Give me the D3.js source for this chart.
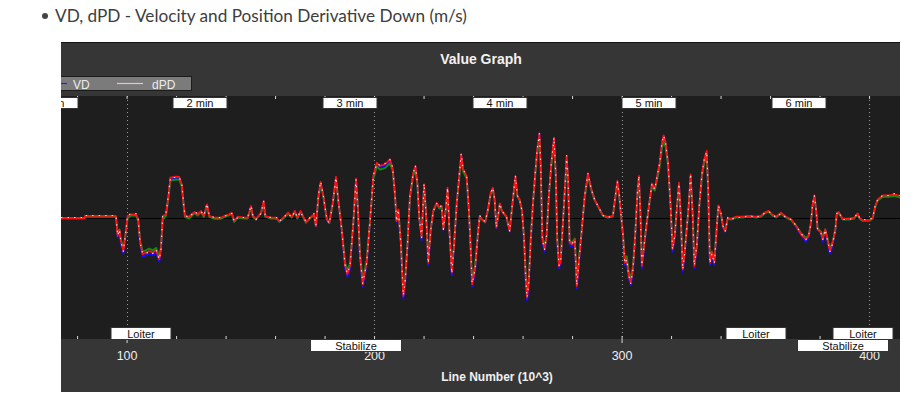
<!DOCTYPE html>
<html>
<head>
<meta charset="utf-8">
<script src="https://cdn.jsdelivr.net/npm/d3@7"></script>
<style>
  body { margin: 0; background: #fff; }
  svg text { font-family: "Liberation Sans", Arial, sans-serif; }
</style>
</head>
<body>
<svg width="920" height="395"></svg>
<script>
// line number (x 1000) of each sample
var lineNo = [73.5,82.9,83.2,95.7,96.4,97.1,97.7,98.7,99.8,100.4,101.8,103.8,104.7,105.5,106.5,107.8,109.2,110.6,111.9,113.2,113.9,114.6,115.9,116.9,117.7,120.0,121.3,122.3,123.1,123.6,125.3,127.4,128.7,130.1,131.2,132.5,133.4,135.4,138.1,140.2,141.5,142.5,143.5,144.9,147.6,148.9,150.3,151.0,152.3,154.3,155.4,156.0,158.3,
  160.6,161.7,163.3,165.3,166.7,168.0,169.0,170.3,171.4,172.5,174.1,175.7,176.5,177.5,178.4,179.5,180.9,181.9,183.3,184.6,185.5,186.9,188.3,189.2,190.3,191.6,192.7,193.4,194.3,195.4,197.0,198.3,199.7,201.1,202.4,204.4,206.4,207.5,208.4,209.1,209.8,210.8,211.8,212.5,213.4,214.5,215.8,216.7,217.5,218.3,219.2,220.2,221.0,221.9,222.9,223.9,225.3,226.4,227.3,228.0,229.1,229.7,230.4,231.4,232.3,233.4,234.4,235.2,236.0,237.4,238.2,238.8,239.6,240.8,242.1,
  242.7,243.6,244.9,246.0,247.1,248.0,248.7,249.4,250.1,250.8,251.7,253.4,254.8,255.8,257.1,257.9,258.8,259.8,260.6,261.3,261.8,262.5,263.3,264.2,265.1,265.9,266.8,267.3,268.0,268.9,269.7,270.6,271.6,272.7,273.4,274.0,274.7,275.4,276.3,277.3,277.8,278.4,279.0,280.0,281.1,281.9,282.7,283.7,285.1,286.4,287.8,289.1,291.2,292.5,294.5,296.5,297.5,298.3,299.0,299.9,300.6,301.3,302.1,302.9,303.7,304.6,305.5,306.4,307.0,307.6,308.2,309.1,310.0,311.4,312.3,313.4,314.4,315.4,316.3,317.0,317.8,318.8,319.8,320.6,321.5,322.4,323.2,323.9,324.7,325.5,
  327.1,327.9,328.7,329.4,330.4,331.4,332.5,333.4,334.4,335.0,335.7,336.5,337.5,338.4,339.1,340.2,341.1,341.9,342.9,344.2,346.2,348.9,351.6,354.3,356.3,357.7,359.4,360.8,362.4,364.4,366.4,368.5,370.5,372.5,374.5,375.6,376.5,377.2,377.9,378.6,379.2,380.6,381.3,382.3,383.3,384.2,385.3,386.4,386.9,387.7,389.3,392.0,394.0,395.4,396.1,397.4,400.1,401.5,402.5,403.5,405.5,408.2,410.2,412.5];

var vdRed = [-0.04,-0.04,0.08,0.08,-0.93,-0.59,-1.18,-1.68,-0.59,0.08,0.16,0.16,-0.09,-1.26,-1.84,-1.76,-1.68,-1.76,-1.63,-2.09,-1.59,0.08,0.16,1.08,1.99,2.04,2.03,1.66,0.58,0.08,0.04,0.28,0.16,0.33,0.08,0.66,0.08,-0.01,-0.01,0.11,0.16,0.24,-0.18,0.04,-0.01,-0.01,0.58,0.08,-0.06,0.24,0.83,0.08,-0.01,
  -0.01,-0.18,-0.01,0.24,0.04,0.33,-0.01,0.33,0.04,-0.23,-0.01,0.16,-0.43,1.08,1.78,1.08,-0.09,-0.26,0.74,2.04,0.91,-0.59,-2.43,-2.84,-2.43,-0.26,1.94,0.58,-1.93,-3.34,-2.26,-0.26,2.08,2.74,2.58,2.66,2.91,2.49,1.24,-0.18,0.41,-1.26,-3.93,-3.26,-1.59,1.08,2.24,2.58,1.74,-0.09,-1.01,1.66,0.24,-2.26,-0.59,0.33,0.74,0.49,0.58,-0.59,0.58,1.49,-0.59,-2.76,-1.43,0.74,2.08,3.16,2.41,2.08,0.58,-0.93,-3.34,-2.59,-0.59,
  0.08,-0.09,-0.23,0.41,1.24,1.49,0.91,-0.51,0.08,0.71,0.33,0.08,-0.68,0.58,2.08,1.08,0.91,0.33,-1.09,-3.09,-4.01,-3.26,-1.09,0.74,2.24,3.41,4.21,2.74,-1.09,-1.59,-0.93,1.08,2.74,3.99,2.24,-1.09,-2.43,-2.18,-0.26,1.91,3.08,1.91,-1.26,-1.34,-1.09,-3.43,-2.26,-0.93,1.08,2.21,1.41,0.91,0.41,0.11,0.03,0.08,1.08,1.83,1.16,-0.01,-0.93,-2.26,-2.09,-2.93,-3.26,-2.59,-0.93,1.24,2.08,0.24,-2.43,-1.43,-0.43,0.91,1.71,1.41,2.08,2.74,3.74,4.11,3.74,2.74,0.58,-1.59,-0.93,0.58,1.74,0.08,-2.59,-1.76,
  0.58,2.16,0.24,-2.43,-1.43,0.58,2.24,2.91,3.33,1.41,-2.26,-1.76,-2.26,-0.59,0.61,0.16,-0.51,-0.68,-0.01,-0.06,0.04,0.04,0.08,0.04,0.08,0.24,0.33,0.16,0.04,0.24,0.04,-0.09,-0.43,-0.84,-1.09,-0.93,-0.26,0.66,1.11,0.41,-0.59,-0.76,-1.09,-0.59,-1.18,-1.68,-1.26,-0.59,0.16,0.28,-0.06,-0.06,-0.01,0.21,-0.01,-0.13,-0.13,-0.01,0.58,0.91,1.11,1.11,1.16,1.08];

var vdBlue = [-0.07,-0.07,0.05,0.05,-0.96,-0.62,-1.30,-1.80,-0.62,0.05,0.13,0.13,-0.12,-1.38,-1.96,-1.88,-1.80,-1.88,-1.75,-2.21,-1.71,0.05,0.13,1.02,1.93,1.98,1.97,1.60,0.55,0.05,0.01,0.25,0.13,0.30,0.05,0.63,0.05,-0.04,-0.04,0.08,0.13,0.21,-0.21,0.01,-0.04,-0.04,0.55,0.05,-0.09,0.21,0.80,0.05,-0.04,
  -0.04,-0.21,-0.04,0.21,0.01,0.30,-0.04,0.30,0.01,-0.26,-0.04,0.13,-0.46,1.02,1.72,1.02,-0.12,-0.29,0.71,1.98,0.88,-0.62,-2.55,-2.96,-2.55,-0.29,1.88,0.55,-2.05,-3.46,-2.38,-0.29,2.02,2.68,2.52,2.60,2.85,2.43,1.18,-0.21,0.38,-1.38,-4.05,-3.38,-1.71,1.02,2.18,2.52,1.68,-0.12,-1.13,1.60,0.21,-2.38,-0.62,0.30,0.71,0.46,0.55,-0.62,0.55,1.43,-0.62,-2.88,-1.55,0.71,2.02,3.10,2.35,2.02,0.55,-0.96,-3.46,-2.71,-0.62,
  0.05,-0.12,-0.26,0.38,1.18,1.43,0.88,-0.54,0.05,0.68,0.30,0.05,-0.71,0.55,2.02,1.02,0.88,0.30,-1.21,-3.21,-4.13,-3.38,-1.21,0.71,2.18,3.35,4.15,2.68,-1.21,-1.71,-0.96,1.02,2.68,3.93,2.18,-1.21,-2.55,-2.30,-0.29,1.85,3.02,1.85,-1.38,-1.46,-1.21,-3.55,-2.38,-0.96,1.02,2.15,1.35,0.88,0.38,0.08,0.00,0.05,1.02,1.77,1.10,-0.04,-0.96,-2.38,-2.21,-3.05,-3.38,-2.71,-0.96,1.18,2.02,0.21,-2.55,-1.55,-0.46,0.88,1.65,1.35,2.02,2.68,3.68,4.05,3.68,2.68,0.55,-1.71,-0.96,0.55,1.68,0.05,-2.71,-1.88,
  0.55,2.10,0.21,-2.55,-1.55,0.55,2.18,2.85,3.27,1.35,-2.38,-1.88,-2.38,-0.62,0.58,0.13,-0.54,-0.71,-0.04,-0.09,0.01,0.01,0.05,0.01,0.05,0.21,0.30,0.13,0.01,0.21,0.01,-0.12,-0.46,-0.87,-1.21,-0.96,-0.29,0.63,1.05,0.38,-0.62,-0.79,-1.21,-0.62,-1.30,-1.80,-1.38,-0.62,0.13,0.25,-0.09,-0.09,-0.04,0.18,-0.04,-0.16,-0.16,-0.04,0.55,0.88,1.05,1.05,1.10,1.02];

var vdGreen = [-0.02,-0.02,0.04,0.04,-0.80,-0.62,-1.10,-1.56,-0.70,-0.05,0.10,0.10,-0.14,-1.17,-1.71,-1.64,-1.56,-1.64,-1.52,-1.94,-1.50,-0.10,0.08,0.95,1.85,1.90,1.89,1.55,0.60,0.02,-0.05,0.22,0.10,0.28,0.02,0.58,0.03,-0.06,-0.06,0.06,0.12,0.20,-0.22,0.00,-0.05,-0.05,0.50,0.04,-0.10,0.20,0.74,0.04,-0.05,
  -0.05,-0.22,-0.05,0.20,0.00,0.29,-0.05,0.29,0.00,-0.26,-0.05,0.12,-0.40,0.96,1.66,1.05,-0.05,-0.28,0.65,1.90,0.90,-0.50,-2.26,-2.64,-2.30,-0.30,1.80,0.62,-1.80,-3.11,-2.15,-0.25,1.93,2.55,2.40,2.47,2.71,2.35,1.20,-0.12,0.36,-1.17,-3.65,-3.10,-1.55,1.00,2.08,2.40,1.66,-0.06,-0.94,1.54,0.22,-2.10,-0.60,0.30,0.70,0.45,0.54,-0.55,0.52,1.39,-0.55,-2.57,-1.40,0.68,1.93,2.94,2.30,1.96,0.60,-0.87,-3.11,-2.45,-0.64,
  0.02,-0.10,-0.24,0.36,1.15,1.39,0.90,-0.45,0.04,0.66,0.30,0.04,-0.63,0.52,1.93,1.05,0.86,0.32,-1.01,-2.87,-3.73,-3.07,-1.10,0.68,2.08,3.17,3.92,2.65,-0.95,-1.48,-0.92,1.00,2.55,3.71,2.15,-1.01,-2.26,-2.05,-0.30,1.78,2.86,1.85,-1.17,-1.25,-1.05,-3.19,-2.15,-0.90,1.00,2.06,1.38,0.88,0.38,0.08,0.00,0.05,1.00,1.70,1.12,-0.04,-0.87,-2.10,-1.94,-2.72,-3.03,-2.45,-0.90,1.15,1.93,0.30,-2.26,-1.40,-0.45,0.85,1.59,1.35,1.93,2.55,3.48,3.82,3.52,2.60,0.60,-1.48,-0.90,0.54,1.62,0.10,-2.41,-1.70,
  0.50,2.01,0.28,-2.26,-1.40,0.54,2.08,2.71,3.10,1.40,-2.10,-1.70,-2.10,-0.60,0.55,0.12,-0.47,-0.66,-0.05,-0.10,0.00,0.00,0.04,0.00,0.04,0.20,0.29,0.12,0.00,0.20,0.00,-0.13,-0.40,-0.78,-1.01,-0.90,-0.30,0.61,1.03,0.40,-0.55,-0.71,-1.01,-0.60,-1.10,-1.56,-1.20,-0.60,0.12,0.24,-0.10,-0.10,-0.05,0.17,-0.05,-0.17,-0.17,-0.05,0.52,0.85,1.03,1.03,1.08,1.00];

var dPD = [0,0,0.1,0.1,-0.9,-0.6,-1.2,-1.7,-0.6,0.1,0.2,0.2,-0.1,-1.3,-1.8,-1.8,-1.7,-1.8,-1.6,-2.1,-1.6,0.1,0.2,1.1,2.0,2.0,2.0,1.7,0.6,0.1,0,0.3,0.2,0.3,0.1,0.7,0.1,0,0,0.1,0.2,0.2,-0.2,0,0,0,0.6,0.1,-0.1,0.2,0.8,0.1,0,
  0,-0.2,0,0.2,0,0.3,0,0.3,0,-0.2,0,0.2,-0.4,1.1,1.8,1.1,-0.1,-0.3,0.7,2.0,0.9,-0.6,-2.4,-2.8,-2.4,-0.3,1.9,0.6,-1.9,-3.3,-2.3,-0.3,2.1,2.7,2.6,2.7,2.9,2.5,1.2,-0.2,0.4,-1.3,-3.9,-3.3,-1.6,1.1,2.2,2.6,1.7,-0.1,-1.0,1.7,0.2,-2.3,-0.6,0.3,0.7,0.5,0.6,-0.6,0.6,1.5,-0.6,-2.8,-1.4,0.7,2.1,3.2,2.4,2.1,0.6,-0.9,-3.3,-2.6,-0.6,
  0.1,-0.1,-0.2,0.4,1.2,1.5,0.9,-0.5,0.1,0.7,0.3,0.1,-0.7,0.6,2.1,1.1,0.9,0.3,-1.1,-3.1,-4.0,-3.3,-1.1,0.7,2.2,3.4,4.2,2.7,-1.1,-1.6,-0.9,1.1,2.7,4.0,2.2,-1.1,-2.4,-2.2,-0.3,1.9,3.1,1.9,-1.3,-1.3,-1.1,-3.4,-2.3,-0.9,1.1,2.2,1.4,0.9,0.4,0.1,0,0.1,1.1,1.8,1.2,0,-0.9,-2.3,-2.1,-2.9,-3.3,-2.6,-0.9,1.2,2.1,0.2,-2.4,-1.4,-0.4,0.9,1.7,1.4,2.1,2.7,3.7,4.1,3.7,2.7,0.6,-1.6,-0.9,0.6,1.7,0.1,-2.6,-1.8,
  0.6,2.2,0.2,-2.4,-1.4,0.6,2.2,2.9,3.3,1.4,-2.3,-1.8,-2.3,-0.6,0.6,0.2,-0.5,-0.7,0,-0.1,0,0,0.1,0,0.1,0.2,0.3,0.2,0,0.2,0,-0.1,-0.4,-0.8,-1.1,-0.9,-0.3,0.7,1.1,0.4,-0.6,-0.8,-1.1,-0.6,-1.2,-1.7,-1.3,-0.6,0.2,0.3,-0.1,-0.1,0,0.2,0,-0.1,-0.1,0,0.6,0.9,1.1,1.1,1.2,1.1];

var minuteAt = [69.3, 129.7, 190.3, 250.7, 311.1, 371.5];
var minuteLabels = ["1 min", "2 min", "3 min", "4 min", "5 min", "6 min"];
var modeAt = [105.8, 192.5, 354.3, 389.3, 397.5];
var modeNames = ["Loiter", "Stabilize", "Loiter", "Stabilize", "Loiter"];
var majorTicks = [100, 200, 300, 400];
var minorTicks = d3.range(80, 420, 20);

var svg = d3.select("svg");

// page heading (bullet item)
svg.append("circle").attr("cx", 45).attr("cy", 16).attr("r", 3).attr("fill", "#444");
svg.append("text")
   .attr("x", 55).attr("y", 22)
   .style("font-family", "Lato, sans-serif")
   .attr("font-size", "17.2px")
   .attr("fill", "#3d3d3d")
   .text("VD, dPD - Velocity and Position Derivative Down (m/s)");

var panelL = 61, panelR = 900, panelT = 42, panelB = 392;
var plotTop = 96, plotBottom = 339;

svg.append("clipPath").attr("id", "panelClip")
   .append("rect").attr("x", panelL).attr("y", panelT).attr("width", panelR - panelL).attr("height", panelB - panelT);

var g = svg.append("g").attr("clip-path", "url(#panelClip)");

g.append("rect").attr("x", panelL).attr("y", panelT).attr("width", panelR - panelL).attr("height", panelB - panelT)
 .attr("fill", "#363636");
g.append("line").attr("x1", panelL).attr("x2", panelR).attr("y1", panelT + 0.5).attr("y2", panelT + 0.5)
 .attr("stroke", "#151515");
g.append("rect").attr("x", panelL).attr("y", plotTop).attr("width", panelR - panelL).attr("height", plotBottom - plotTop)
 .attr("fill", "#1e1e1f");

var x = d3.scaleLinear().domain([73.5, 412.5]).range([panelL, panelR]);
var y = d3.scaleLinear().domain([-6, 6]).range([337.5, 97.5]);

g.append("text")
 .attr("x", 481).attr("y", 64)
 .attr("text-anchor", "middle")
 .attr("font-size", "14px").attr("font-weight", "bold")
 .attr("fill", "#f2f2f2")
 .text("Value Graph");

// legend (left part cut off)
var lg = g.append("g");
lg.append("rect").attr("x", 20.5).attr("y", 76.5).attr("width", 171).attr("height", 14)
  .attr("fill", "#7b7b7b").attr("stroke", "#1c1c1c");
lg.append("line").attr("x1", 50).attr("x2", 67).attr("y1", 83.5).attr("y2", 83.5)
  .attr("stroke", "#2020ff").attr("stroke-width", 1.2);
lg.append("text").attr("x", 73).attr("y", 88.5).attr("font-size", "12px").attr("fill", "#ececec").text("VD");
lg.append("line").attr("x1", 117).attr("x2", 143).attr("y1", 83.5).attr("y2", 83.5)
  .attr("stroke", "#e9c4cc").attr("stroke-width", 1.2);
lg.append("text").attr("x", 152).attr("y", 88.5).attr("font-size", "12px").attr("fill", "#ececec").text("dPD");

// dotted grid at the major ticks
g.selectAll(".grid").data(majorTicks).enter().append("line")
 .attr("x1", function(d) { return Math.round(x(d)) + 0.5; })
 .attr("x2", function(d) { return Math.round(x(d)) + 0.5; })
 .attr("y1", plotTop).attr("y2", plotBottom)
 .attr("stroke", "#9a9a9a").attr("stroke-dasharray", "1,3");

// zero line
g.append("line").attr("x1", panelL).attr("x2", panelR)
 .attr("y1", Math.round(y(0)) + 0.5).attr("y2", Math.round(y(0)) + 0.5)
 .attr("stroke", "#000").attr("stroke-width", 1.2);

// bottom axis: minor ticks inside, major ticks with labels
var minorAxis = d3.axisBottom(x).tickValues(minorTicks).tickSize(-3).tickFormat("");
var ax1 = g.append("g").attr("transform", "translate(0," + plotBottom + ")").call(minorAxis);
var majorAxis = d3.axisBottom(x).tickValues(majorTicks).tickSize(4).tickPadding(8).tickFormat(d3.format("d"));
var ax2 = g.append("g").attr("transform", "translate(0," + plotBottom + ")").call(majorAxis);
var topAxis = d3.axisTop(x).tickValues(minorTicks).tickSize(-3).tickFormat("");
var ax3 = g.append("g").attr("transform", "translate(0," + plotTop + ")").call(topAxis);
[ax1, ax2, ax3].forEach(function(a) {
  a.select(".domain").remove();
  a.selectAll(".tick line").attr("stroke", "#d8d8d8");
});
ax2.selectAll(".tick text").attr("font-size", "12.5px").attr("fill", "#eeeeee")
   .style("font-family", "'Liberation Sans', Arial, sans-serif");

g.append("text")
 .attr("x", 497).attr("y", 381)
 .attr("text-anchor", "middle")
 .attr("font-size", "12px").attr("font-weight", "bold")
 .attr("fill", "#f0f0f0")
 .text("Line Number (10^3)");

// series
var plotG = g.append("g");
var series = [
  { values: vdBlue, color: "#1010ff", width: 1.9, dash: null },
  { values: vdGreen, color: "#108a10", width: 1.9, dash: null },
  { values: vdRed, color: "#ff1010", width: 1.7, dash: null },
  { values: dPD, color: "#eccdd3", width: 1.2, dash: "1.5,5" }
];
var line = d3.line()
  .x(function(d) { return x(d[0]); })
  .y(function(d) { return y(d[1]); });
series.forEach(function(s) {
  var pts = lineNo.map(function(l, i) { return [l, s.values[i]]; })
                  .filter(function(p) { return p[1] !== undefined; });
  plotG.append("path")
    .datum(pts)
    .attr("d", line)
    .attr("fill", "none")
    .attr("stroke", s.color)
    .attr("stroke-width", s.width)
    .attr("stroke-linejoin", "round")
    .attr("stroke-dasharray", s.dash);
});

// minute markers along the top
var mins = g.selectAll(".min").data(minuteAt).enter().append("g")
  .attr("transform", function(d) { return "translate(" + Math.round(x(d)) + "," + (plotTop + 1) + ")"; });
mins.append("rect").attr("x", -27).attr("y", 0.5).attr("width", 54).attr("height", 11)
  .attr("fill", "#fff").attr("stroke", "#333");
mins.append("text").attr("y", 10).attr("text-anchor", "middle")
  .attr("font-size", "11px").attr("fill", "#111")
  .text(function(d, i) { return minuteLabels[i]; });

// flight mode labels along the bottom
var boxW = { "Loiter": 60, "Stabilize": 91 };
var modes = g.selectAll(".mode").data(modeAt).enter().append("g")
  .attr("transform", function(d, i) {
    var row = modeNames[i] === "Stabilize" ? plotBottom : plotBottom - 12;
    return "translate(" + Math.round(x(d)) + "," + row + ")";
  });
modes.append("rect")
  .attr("x", function(d, i) { return -boxW[modeNames[i]] / 2; })
  .attr("y", 0.5).attr("width", function(d, i) { return boxW[modeNames[i]]; }).attr("height", 12)
  .attr("fill", "#fff").attr("stroke", "#333");
modes.append("text").attr("y", 10.5).attr("text-anchor", "middle")
  .attr("font-size", "11px").attr("fill", "#111")
  .text(function(d, i) { return modeNames[i]; });
</script>
</body>
</html>
